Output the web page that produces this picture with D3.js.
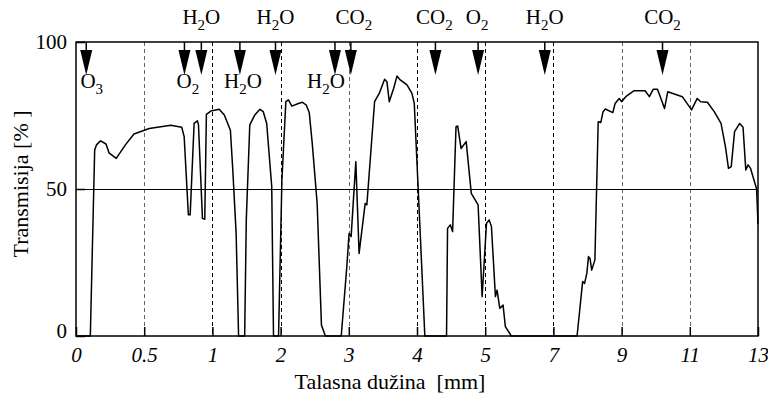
<!DOCTYPE html>
<html>
<head>
<meta charset="utf-8">
<script src="https://cdn.jsdelivr.net/npm/d3@7"></script>
<style>
  body { margin: 0; background: #fff; }
  text { font-family: "Liberation Serif", "Times New Roman", serif; fill: #000; }
</style>
</head>
<body>
<div id="graf"></div>
<script>
// tick values on the (non linear) wavelength axis
const xTicks = [0, 0.5, 1, 2, 3, 4, 5, 7, 9, 11, 13]
const yTicks = [0, 50, 100]

// transmission curve
const wavelength = [0, 0.105, 0.137, 0.150, 0.180, 0.220, 0.242, 0.295, 0.362, 0.425, 0.537, 0.695, 0.775, 0.793,
  0.824, 0.837, 0.866, 0.890, 0.898, 0.927, 0.944, 0.956, 0.988, 1.100, 1.175, 1.264, 1.299, 1.348, 1.384,
  1.473, 1.497, 1.548, 1.622, 1.697, 1.746, 1.796, 1.870, 1.896, 1.970, 2.019, 2.077, 2.116, 2.164, 2.261,
  2.319, 2.377, 2.420, 2.464, 2.536, 2.599, 2.657, 2.889, 2.971, 3.004, 3.034, 3.103, 3.151, 3.240, 3.265,
  3.378, 3.446, 3.525, 3.559, 3.593, 3.657, 3.706, 3.754, 3.853, 3.926, 3.960, 4.025, 4.115, 4.433, 4.448,
  4.488, 4.522, 4.572, 4.597, 4.646, 4.721, 4.796, 4.896, 4.955, 5.038, 5.116, 5.183, 5.300, 5.349, 5.428,
  5.524, 5.591, 5.766, 7.694, 7.857, 7.914, 7.980, 8.029, 8.074, 8.123, 8.217, 8.314, 8.389, 8.457, 8.523,
  8.743, 8.809, 8.931, 9.0, 9.122, 9.358, 9.691, 9.814, 9.927, 10.053, 10.260, 10.354, 10.781, 11.051,
  11.218, 11.319, 11.516, 11.716, 11.916, 12.045, 12.134, 12.215, 12.313, 12.463, 12.561, 12.642, 12.710,
  12.782, 12.96, 13.0]
const transmission = [0, 0, 63.3, 65, 66.4, 65.3, 62.3, 60.4, 65, 68.7, 70.6, 71.7, 71, 67.8,
  41.2, 41.2, 72.3, 73.2, 71.8, 40, 39.7, 75.4, 76.5, 77.1, 75.2, 70, 56.5, 34.9, 0,
  0, 39.5, 71.8, 75.2, 77.1, 76.3, 72.3, 50.8, 0, 0, 53, 79.7, 80.3, 78.2, 79.1,
  79.5, 78.5, 76, 65.5, 45.1, 3.7, 0, 0, 23.6, 34.9, 33.8, 59.3, 28.1, 45.1, 44.6,
  79.7, 82.5, 87.3, 86.5, 79.7, 84.2, 88.4, 87.1, 85.4, 82.5, 79.1, 46.3, 0, 0, 36.6,
  37.8, 35.5, 71.2, 71.4, 63.8, 66.1, 48.5, 44.6, 13.4, 38.3, 39.5, 37.2, 13.4, 15.6, 9.4,
  10.5, 3.2, 0, 0, 18.5, 17.9, 21.3, 27, 26.4, 22.4, 25.9, 72.9, 72.6, 76.3, 77.2,
  76, 79.1, 80.8, 79.7, 81.4, 83.4, 83.4, 81.4, 83.9, 83.9, 77.4, 83.1, 81.4, 76.9,
  80.8, 79.7, 79.5, 76.3, 72.3, 64.4, 57, 57.6, 69.5, 72.3, 71, 56.5, 58.2,
  57, 50, 38]

// absorption markers
const gasX = [0.075, 0.795, 0.919, 1.403, 1.925, 2.797, 3.03, 4.27, 4.896, 6.747, 10.2]
const gasName = ["O3", "O2", "H2O", "H2O", "H2O", "H2O", "CO2", "CO2", "O2", "H2O", "CO2"]
const gasSide = ["below", "below", "above", "below", "above", "below", "above", "above", "above", "above", "above"]

const W = 768, H = 398
const mLeft = 76, mRight = 758, mTop = 42, mBottom = 336
const labelShift = [5.5, 3.5, 0, 3, 0, -9, 3, -1, -1, 0, 0]   // horizontal nudge of each marker label

const x = d3.scaleLinear()
  .domain(xTicks)
  .range(xTicks.map((d, i) => mLeft + i * (mRight - mLeft) / (xTicks.length - 1)))
const y = d3.scaleLinear().domain([0, 100]).range([mBottom, mTop])

const svg = d3.select('#graf')
  .append('svg')
  .attr('width', W)
  .attr('height', H)

// dashed verticals at the inner ticks
svg.append('g')
  .selectAll('line')
  .data(xTicks.slice(1, -1))
  .join('line')
  .attr('x1', d => Math.round(x(d)) + 0.5).attr('x2', d => Math.round(x(d)) + 0.5)
  .attr('y1', mTop).attr('y2', mBottom)
  .attr('stroke', d => [0.5, 3, 9, 11].includes(d) ? '#666' : '#000')
  .attr('stroke-width', 1)
  .attr('stroke-dasharray', '4,3')

// 50 % line
svg.append('line')
  .attr('x1', mLeft).attr('x2', mRight)
  .attr('y1', Math.round(y(50)) + 0.5).attr('y2', Math.round(y(50)) + 0.5)
  .attr('stroke', '#000').attr('stroke-width', 1)

// axes
const xAxis = svg.append('g')
  .attr('transform', `translate(0,${mBottom})`)
  .call(d3.axisBottom(x).tickValues(xTicks).tickSize(-9).tickSizeOuter(0).tickPadding(11).tickFormat(d => d))
const yAxis = svg.append('g')
  .attr('transform', `translate(${mLeft},0)`)
  .call(d3.axisLeft(y).tickValues(yTicks).tickSize(-9).tickSizeOuter(0).tickPadding(9))

;[xAxis, yAxis].forEach(g => {
  g.select('.domain').remove()
  g.selectAll('.tick line').attr('stroke', '#000').attr('stroke-width', 1.5)
  g.selectAll('text').attr('font-size', 21).attr('font-family', '"Liberation Serif", serif').attr('fill', '#000')
})
xAxis.selectAll('text').attr('font-style', 'italic')
yAxis.selectAll('text').filter(d => d === 0).attr('dy', '0.05em')

// frame
svg.append('rect')
  .attr('x', mLeft).attr('y', mTop)
  .attr('width', mRight - mLeft).attr('height', mBottom - mTop)
  .attr('fill', 'none').attr('stroke', '#000').attr('stroke-width', 1.5)

// curve
const pts = wavelength.map((d, i) => [d, transmission[i]])
svg.append('path')
  .datum(pts)
  .attr('fill', 'none')
  .attr('stroke', '#000')
  .attr('stroke-width', 1.5)
  .attr('stroke-linejoin', 'round')
  .attr('d', d3.line().x(d => x(d[0])).y(d => y(d[1])))

// markers
const mk = svg.append('g')
gasX.forEach((g, i) => {
  const px = x(g)
  mk.append('line')
    .attr('x1', px).attr('x2', px).attr('y1', mTop).attr('y2', mTop + 9)
    .attr('stroke', '#000').attr('stroke-width', 1.5)
  mk.append('path')
    .attr('d', `M${px - 6},${mTop + 8} L${px + 6},${mTop + 8} L${px},${mTop + 33} Z`)
    .attr('fill', '#000')

  const t = mk.append('text')
    .attr('x', px + labelShift[i])
    .attr('y', gasSide[i] === 'above' ? 30 : 94)
    .attr('text-anchor', 'middle')
    .attr('font-size', 21)
  // digits go as subscripts
  gasName[i].split(/(\d)/).filter(s => s).forEach(s => {
    if (/\d/.test(s)) {
      t.append('tspan').attr('font-size', 15).attr('dy', 6).text(s)
    } else {
      t.append('tspan').attr('dy', t.selectAll('tspan').size() ? -6 : 0).text(s)
    }
  })
})

// titles
svg.append('text')
  .attr('x', 390).attr('y', 389)
  .attr('text-anchor', 'middle')
  .attr('font-size', 22)
  .attr('xml:space', 'preserve')
  .text('Talasna dužina  [mm]')

svg.append('text')
  .attr('transform', 'translate(28,184) rotate(-90)')
  .attr('text-anchor', 'middle')
  .attr('font-size', 22)
  .attr('xml:space', 'preserve')
  .text('Transmisija [% ]')
</script>
</body>
</html>
